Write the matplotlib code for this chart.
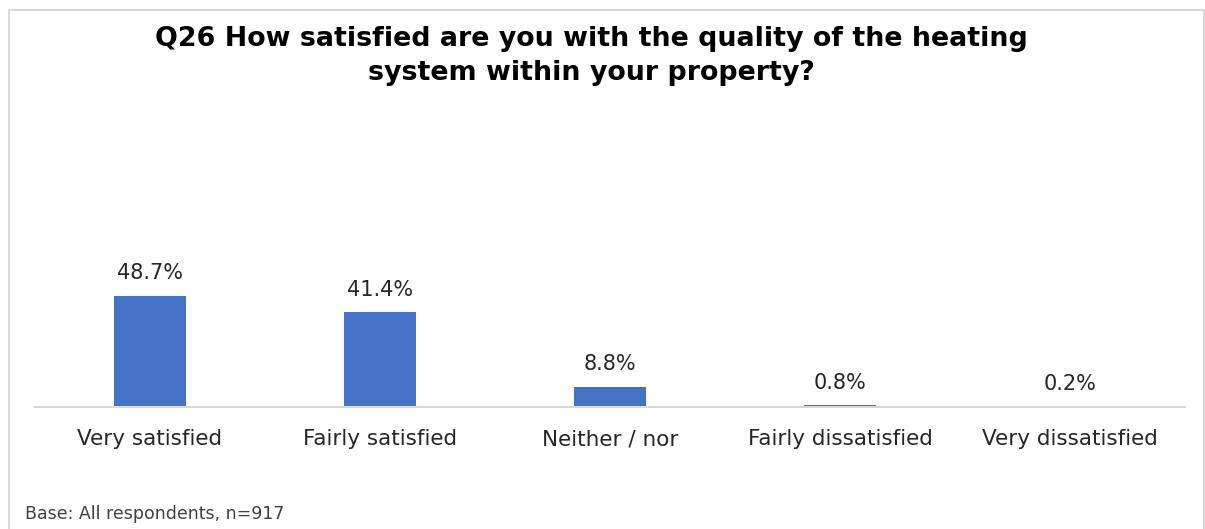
import matplotlib
matplotlib.use("Agg")
import matplotlib.pyplot as plt
from matplotlib.patches import Rectangle

categories = ["Very satisfied", "Fairly satisfied", "Neither / nor", "Fairly dissatisfied", "Very dissatisfied"]
values = [48.7, 41.4, 8.8, 0.8, 0.2]
labels = ["48.7%", "41.4%", "8.8%", "0.8%", "0.2%"]

W, H = 1205, 529
fig = plt.figure(figsize=(W / 100, H / 100), dpi=100)
fig.patch.set_facecolor("white")

# outer frame
fig.add_artist(Rectangle((9 / W, -0.01), (W - 10) / W, (H - 10) / H + 0.01,
                         transform=fig.transFigure, fill=False,
                         edgecolor="#D9D9D9", linewidth=1.5))

ax = fig.add_axes([35 / W, (H - 407) / H, 1150 / W, 137 / H])
x = list(range(len(categories)))
ax.bar(x, values, width=0.313, color="#4472C4", zorder=2)
ax.set_xlim(-0.5, len(categories) - 0.5)
ax.set_ylim(0, 60)
for xi, v, lab in zip(x, values, labels):
    ax.annotate(lab, (xi, v), xytext=(0, 9), textcoords="offset points",
                ha="center", va="bottom", fontsize=15, color="#262626")
ax.set_xticks(x)
ax.set_xticklabels(categories, fontsize=15.5, color="#262626")
ax.tick_params(axis="x", length=0, pad=16)
ax.set_yticks([])
for s in ["top", "right", "left"]:
    ax.spines[s].set_visible(False)
ax.spines["bottom"].set_color("#D9D9D9")
ax.spines["bottom"].set_linewidth(1.5)
ax.set_facecolor("none")

fig.text(591 / W, 1 - 56 / H,
         "Q26 How satisfied are you with the quality of the heating\nsystem within your property?",
         ha="center", va="center", fontsize=19.4, fontweight="bold",
         linespacing=1.45, color="black")

fig.text(25 / W, 1 - 514 / H, "Base: All respondents, n=917", ha="left", va="center",
         fontsize=12.5, color="#404040")

fig.savefig("out.png", dpi=100, facecolor="white")
